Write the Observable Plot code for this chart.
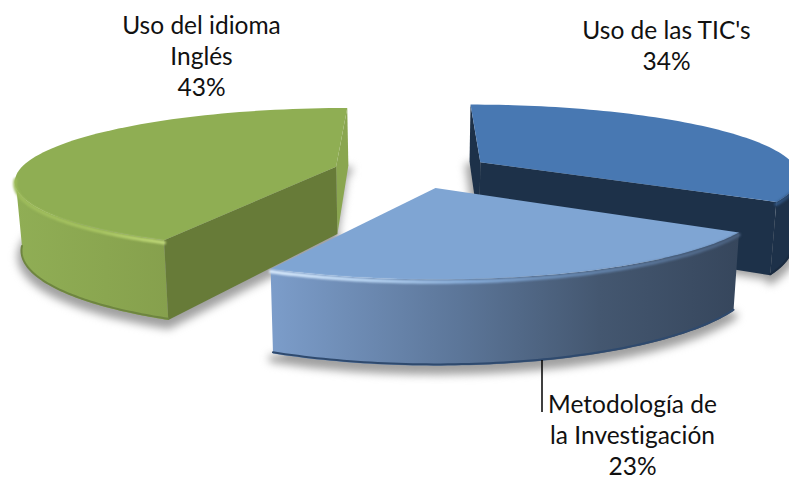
<!DOCTYPE html>
<html><head><meta charset="utf-8">
<style>html,body{margin:0;padding:0;background:#fff;overflow:hidden}svg{display:block;overflow:hidden}svg text{font-variant-ligatures:none}</style>
<script src="https://cdn.jsdelivr.net/npm/d3@7"></script>
<script src="https://cdn.jsdelivr.net/npm/@observablehq/plot@0.6"></script>
</head><body><div id="chart"></div>
<script>
const categories = ["Uso de las TIC's", "Metodología de la Investigación", "Uso del idioma Inglés"];
const shares = [34, 23, 43];
const labelLines = ["Uso de las TIC's\n34%", "Metodología de\nla Investigación\n23%", "Uso del idioma\nInglés\n43%"];
const labelX = [666, 632, 201];
const labelY = [45, 435, 56];
const topColors = ["#4878b2", "#7fa5d3", "#8fae53"];
const wallColors = ["#1d3149", "url(#wallB)", "url(#wallG)"];
const cutColors = ["#1d3149", "#36465c", "#677b38"];
const sliverColors = ["#1d3149", "#36465c", "#8aa650"];
const rimColors = ["url(#rimA)", "url(#rimB)", "url(#rimG)"];
const edgeColors = ["#1a2b40", "#2f4a6e", "#6e8540"];
const radii = [318, 313, 317];
const arcShiftX = [0, -3, 0];

// camera of the 3-D pie
const CX = 412, CY = 170, K = 0.221, P = 0.17, R0 = 313, EXPLODE = 79, H = 68, CONV = 0.017;
const rad = d => d * Math.PI / 180;
const project = (X, Z, h = 0) => {
  const s = 1 / (1 - P * Z / R0);
  const f = h / H;
  return {x: CX + X * s * (1 - CONV * f), y: CY + K * Z * s + h * s};
};

let start = 0;
const slices = shares.map((v, i) => {
  const a0 = start, a1 = start + v * 3.6; start = a1;
  const mid = (a0 + a1) / 2, R = radii[i];
  const ax = EXPLODE * Math.sin(rad(mid)), az = -EXPLODE * Math.cos(rad(mid));
  const pt = (a, h = 0) => project(ax + arcShiftX[i] + R * Math.sin(rad(a)), az - R * Math.cos(rad(a)), h);
  const apex = (h = 0) => project(ax, az, h);
  const arc = (from, to, h = 0) => d3.range(0, 81).map(t => pt(from + (to - from) * t / 80, h));
  return {i, a0, a1, pt, apex, arc};
});

const poly = (pts, fill, o = {}) => Plot.line(pts, {x: "x", y: "y", fill, stroke: "none", curve: "linear", ...o});
const path = (pts, stroke, o = {}) => Plot.line(pts, {x: "x", y: "y", stroke, fill: "none", curve: "linear", ...o});
const face = (s, a, fill) => poly([s.pt(a), s.apex(), s.apex(H), s.pt(a, H)], fill);

const defs = () => {
  const d = d3.create("svg:defs");
  const grad = (id, stops, x1 = 270, x2 = 740) => {
    const g = d.append("linearGradient").attr("id", id).attr("gradientUnits", "userSpaceOnUse")
      .attr("x1", x1).attr("x2", x2).attr("y1", 0).attr("y2", 0);
    stops.forEach(([o, c]) => g.append("stop").attr("offset", o).attr("stop-color", c));
  };
  grad("wallB", [[0, "#7c9dca"], [.4, "#5c7699"], [.7, "#445770"], [1, "#36465c"]]);
  grad("wallG", [[0, "#90ae55"], [.6, "#8aa650"], [1, "#86a04d"]], 13, 168);
  grad("rimB", [[0, "#dcecfd"], [.2, "#bcd8f5"], [.42, "#88aedb"], [.62, "#6a8cb6"], [1, "#4a607e"]]);
  grad("rimG", [[0, "#9dbb5b"], [.55, "#a8c562"], [.9, "#bcd675"], [1, "#c4dc80"]], 13, 168);
  grad("rimA", [[0, "#4878b2"], [1, "#2a4a72"]], 740, 789);
  return d.node();
};

// which arc of each slice faces the viewer
const wallRange = [[100, 122.4], [122.4, 205.2], [205.2, 261]];
const rimRange = [[100, 122.4], [122.4, 205.2], [205.2, 261]];

const marks = [defs];
for (const k of [0, 2, 1]) {
  const s = slices[k];
  const [w0, w1] = wallRange[k], [r0, r1] = rimRange[k];
  marks.push(poly([s.apex(H), ...s.arc(s.a0, s.a1, H)], "#a0a0a0", {stroke: "#a0a0a0", strokeWidth: 8, dy: 5, imageFilter: "blur(4px)"}));
  if (k === 0) { marks.push(face(s, s.a0, sliverColors[k])); marks.push(face(s, s.a1, cutColors[k])); }
  if (k === 2) { marks.push(face(s, s.a1, sliverColors[k])); }
  marks.push(poly([...s.arc(w0, w1), ...s.arc(w0, w1, H).reverse()], wallColors[k]));
  if (k === 2) marks.push(face(s, s.a0, cutColors[k]));
  marks.push(path(s.arc(w0, w1, H - 1), edgeColors[k], {strokeWidth: 2, imageFilter: "blur(0.6px)"}));
  marks.push(poly([s.apex(), ...s.arc(s.a0, s.a1)], topColors[k]));
  marks.push(path(s.arc(r0, r1, 2), rimColors[k], {strokeWidth: 3.5, imageFilter: "blur(0.8px)"}));
}

marks.push(Plot.ruleX([541.5], {y1: 360, y2: 412, stroke: "#000", strokeWidth: 1.5}));
marks.push(Plot.text(labelLines, {
  x: (d, i) => labelX[i], y: (d, i) => labelY[i] - 1, text: d => d,
  fontFamily: "Lato", fontSize: 24.5, lineHeight: 1.265, textAnchor: "middle", lineAnchor: "middle", fill: "#111"
}));

const chart = Plot.plot({
  width: 789, height: 479, margin: 0,
  x: {domain: [0, 789], range: [0, 789], axis: null},
  y: {domain: [0, 479], range: [0, 479], axis: null},
  style: {background: "#fff"},
  marks
});
document.getElementById("chart").append(chart);
</script></body></html>
